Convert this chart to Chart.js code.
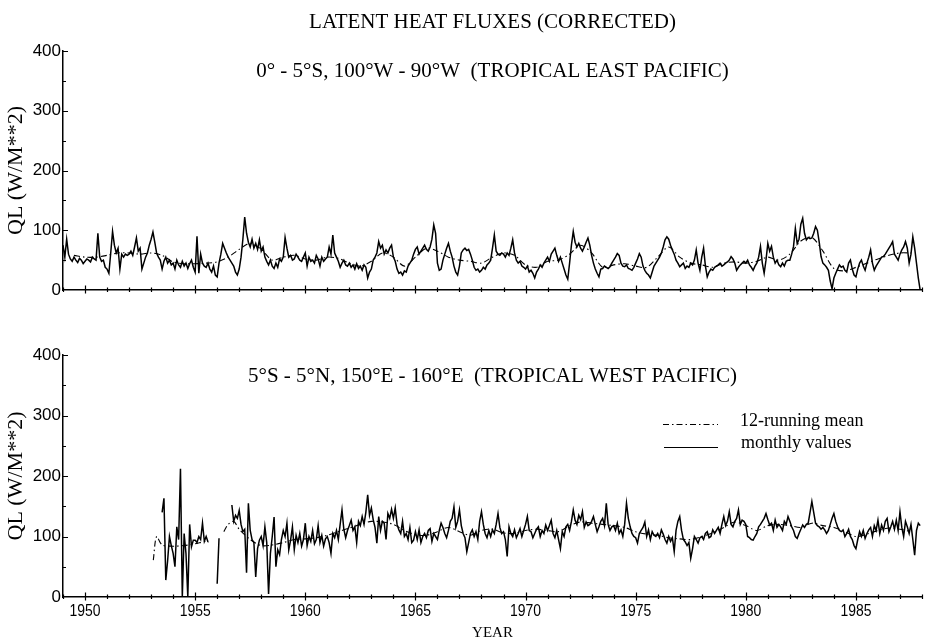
<!DOCTYPE html>
<html>
<head>
<meta charset="utf-8">
<script src="https://cdn.jsdelivr.net/npm/chart.js@4.4.1/dist/chart.umd.min.js"></script>
<style>
html, body { margin: 0; padding: 0; background: #fff; }
#wrap { position: relative; width: 932px; height: 643px; overflow: hidden; background: #fff; }
canvas { position: absolute; left: 0; }
#c1 { top: 0; }
#c2 { top: 320px; }
</style>
</head>
<body>
<div id="wrap">
  <canvas id="c1" width="932" height="320"></canvas>
  <canvas id="c2" width="932" height="323"></canvas>
</div>
<script>
// ---------------- DATA ----------------
const mainTitle = 'LATENT HEAT FLUXES (CORRECTED)';
const eastTitle = '0\u00B0 - 5\u00B0S, 100\u00B0W - 90\u00B0W  (TROPICAL EAST PACIFIC)';
const westTitle = '5\u00B0S - 5\u00B0N, 150\u00B0E - 160\u00B0E  (TROPICAL WEST PACIFIC)';
const yAxisTitle = 'QL (W/M**2)';
const xAxisTitle = 'YEAR';
const legendLabels = ['12-running mean', 'monthly values'];

const xTickYears = [1950, 1955, 1960, 1965, 1970, 1975, 1980, 1985];
const yTickValues = [0, 100, 200, 300, 400];
const yMinorValues = [50, 150, 250, 350];

// East Pacific monthly values, Jan 1949 .. Dec 1987 (one row per year)
const eastStartYear = 1949;
const eastMonthly = [
  75, 55, 85, 60, 52, 48, 55, 50, 46, 53, 50, 44,   // 1949
  48, 52, 50, 47, 55, 52, 50, 95, 55, 48, 50, 38,   // 1950
  35, 28, 62, 98, 75, 62, 70, 35, 60, 55, 60, 58,   // 1951
  60, 65, 58, 72, 87, 65, 70, 35, 45, 55, 62, 75,   // 1952
  85, 97, 80, 62, 55, 50, 35, 48, 55, 45, 50, 42,   // 1953
  45, 35, 50, 42, 38, 48, 40, 45, 36, 44, 50, 38,   // 1954
  30, 90, 28, 60, 45, 40, 38, 45, 35, 30, 40, 25,   // 1955
  22, 45, 60, 78, 70, 62, 55, 50, 45, 40, 30, 25,   // 1956
  35, 55, 85, 122, 95, 80, 72, 85, 70, 78, 68, 84,  // 1957
  65, 72, 55, 48, 42, 50, 40, 36, 45, 38, 52, 48,   // 1958
  55, 88, 70, 55, 58, 50, 52, 60, 55, 50, 48, 55,   // 1959
  62, 40, 55, 48, 50, 45, 58, 52, 40, 55, 48, 52,   // 1960
  55, 72, 60, 92, 62, 55, 48, 38, 45, 50, 42, 40,   // 1961
  45, 38, 42, 35, 44, 36, 40, 33, 42, 38, 20, 30,   // 1962
  35, 50, 55, 62, 81, 70, 75, 60, 67, 62, 70, 75,   // 1963
  55, 48, 35, 28, 30, 25, 32, 30, 40, 45, 50, 60,   // 1964
  68, 72, 60, 65, 70, 75, 68, 65, 72, 85, 109, 95,  // 1965
  45, 33, 35, 50, 60, 70, 78, 65, 55, 40, 30, 25,   // 1966
  40, 62, 67, 70, 66, 68, 60, 50, 38, 33, 35, 30,   // 1967
  33, 38, 35, 42, 45, 50, 70, 92, 65, 60, 58, 62,   // 1968
  60, 55, 62, 58, 70, 84, 62, 50, 45, 48, 40, 38,   // 1969
  35, 40, 30, 33, 28, 20, 30, 35, 42, 38, 45, 50,   // 1970
  55, 48, 60, 65, 70, 58, 48, 55, 45, 35, 25, 18,   // 1971
  45, 75, 98, 80, 72, 78, 70, 65, 72, 80, 87, 75,   // 1972
  58, 45, 35, 28, 22, 35, 36, 40, 38, 36, 39, 45,   // 1973
  50, 55, 61, 58, 45, 40, 39, 42, 36, 35, 33, 38,   // 1974
  45, 52, 61, 55, 40, 33, 28, 25, 20, 30, 40, 45,   // 1975
  50, 55, 62, 72, 84, 89, 85, 75, 67, 60, 50, 45,   // 1976
  39, 42, 45, 36, 40, 38, 45, 42, 50, 67, 45, 33,   // 1977
  55, 70, 40, 22, 30, 35, 33, 38, 40, 42, 45, 40,   // 1978
  42, 45, 47, 50, 56, 52, 45, 33, 38, 42, 45, 48,   // 1979
  45, 50, 42, 38, 33, 40, 45, 55, 73, 45, 28, 50,   // 1980
  78, 65, 73, 55, 45, 50, 42, 39, 45, 40, 48, 50,   // 1981
  50, 60, 73, 103, 78, 85, 110, 120, 95, 84, 88, 86, // 1982
  87, 95, 106, 100, 80, 56, 45, 42, 38, 33, 15, 2,  // 1983
  20, 28, 35, 42, 38, 40, 33, 30, 45, 50, 35, 25,   // 1984
  22, 35, 45, 50, 40, 33, 45, 55, 67, 45, 33, 40,   // 1985
  45, 50, 55, 56, 60, 65, 70, 75, 81, 60, 55, 50,   // 1986
  60, 67, 72, 81, 70, 45, 60, 89, 70, 45, 20, 0     // 1987
];

// East Pacific 12-month running mean, read every half year
const eastMeanYears = [
  1949.5, 1950, 1950.5, 1951, 1951.5, 1952, 1952.5, 1953, 1953.5, 1954, 1954.5, 1955, 1955.5,
  1956, 1956.5, 1957, 1957.5, 1958, 1958.5, 1959, 1959.5, 1960, 1960.5, 1961, 1961.5,
  1962, 1962.5, 1963, 1963.5, 1964, 1964.5, 1965, 1965.5, 1966, 1966.5, 1967, 1967.5,
  1968, 1968.5, 1969, 1969.5, 1970, 1970.5, 1971, 1971.5, 1972, 1972.5, 1973, 1973.5,
  1974, 1974.5, 1975, 1975.5, 1976, 1976.5, 1977, 1977.5, 1978, 1978.5, 1979, 1979.5,
  1980, 1980.5, 1981, 1981.5, 1982, 1982.5, 1983, 1983.5, 1984, 1984.5, 1985, 1985.5,
  1986, 1986.5, 1987, 1987.5
];
const eastMeanValues = [
  58, 55, 55, 58, 62, 62, 60, 62, 58, 47, 44, 44, 45,
  47, 55, 68, 78, 68, 50, 55, 58, 52, 50, 55, 53,
  45, 40, 48, 62, 55, 40, 55, 70, 65, 55, 50, 48,
  45, 55, 62, 58, 42, 38, 48, 50, 60, 75, 62, 38,
  42, 44, 40, 38, 55, 72, 55, 45, 42, 38, 45, 47,
  45, 48, 55, 50, 60, 82, 88, 65, 36, 32, 38, 45,
  52, 58, 62, 62
];

// West Pacific monthly values, Jan 1953 .. Dec 1987 (null = missing)
const westStartYear = 1953;
const westMonthly = [
  null, null, null, null, null, null, 140, 163, 28, 60, 100, 85,      // 1953
  72, 50, 116, 95, 212, 0, 105, 72, 0, 120, 83, 94,                    // 1954
  94, 90, 100, 95, 122, 92, 100, 91, null, null, null, null,          // 1955
  22, 97, null, null, null, null, null, null, 152, 125, 135, 130,     // 1956
  143, 120, 108, 112, 40, 155, 110, 95, 90, 33, 80, 94,               // 1957
  100, 85, 116, 90, 5, 72, 100, 132, 50, 78, 70, 95,                  // 1958
  110, 100, 122, 78, 94, 116, 78, 102, 90, 105, 84, 95,               // 1959
  122, 85, 100, 92, 110, 88, 95, 118, 90, 102, 84, 96,                // 1960
  100, 90, 72, 105, 98, 110, 95, 120, 144, 112, 98, 110,              // 1961
  118, 127, 110, 116, 90, 125, 118, 133, 120, 140, 169, 135,          // 1962
  147, 128, 115, 89, 133, 110, 125, 122, 95, 138, 130, 145,           // 1963
  130, 147, 120, 111, 105, 125, 100, 105, 95, 115, 90, 94,            // 1964
  108, 95, 111, 90, 100, 105, 98, 110, 113, 92, 105, 100,             // 1965
  95, 110, 122, 115, 105, 98, 110, 125, 130, 149, 115, 125,           // 1966
  144, 118, 105, 98, 75, 90, 105, 111, 100, 108, 95, 125,             // 1967
  141, 120, 105, 98, 110, 100, 111, 105, 120, 138, 115, 105,          // 1968
  108, 95, 67, 116, 105, 100, 111, 98, 105, 113, 100, 110,            // 1969
  120, 133, 110, 108, 98, 105, 112, 116, 100, 110, 105, 119,          // 1970
  110, 118, 127, 105, 98, 110, 95, 80, 108, 100, 116, 120,            // 1971
  110, 125, 144, 127, 120, 135, 128, 141, 115, 124, 118, 120,         // 1972
  125, 133, 120, 108, 116, 125, 130, 118, 155, 120, 110, 116,         // 1973
  118, 110, 122, 105, 111, 100, 120, 155, 130, 116, 105, 100,         // 1974
  98, 89, 105, 110, 115, 124, 100, 111, 95, 108, 102, 100,            // 1975
  105, 98, 111, 104, 95, 89, 100, 92, 98, 75, 110, 125,               // 1976
  133, 110, 95, 91, 85, 90, 64, 80, 100, 95, 89, 98,                  // 1977
  100, 95, 105, 108, 98, 100, 111, 105, 110, 115, 105, 120,           // 1978
  133, 118, 125, 141, 120, 116, 125, 130, 144, 120, 127, 125,         // 1979
  120, 100, 98, 95, 94, 100, 105, 116, 120, 125, 130, 138,            // 1980
  128, 119, 122, 110, 127, 115, 120, 116, 110, 125, 120, 133,         // 1981
  125, 116, 110, 100, 97, 105, 112, 119, 115, 120, 122, 140,          // 1982
  158, 140, 122, 118, 116, 112, 115, 111, 105, 110, 120, 130,         // 1983
  138, 125, 116, 110, 108, 111, 100, 105, 112, 100, 95, 85,           // 1984
  80, 95, 108, 100, 110, 97, 105, 111, 115, 100, 118, 110,            // 1985
  127, 105, 119, 110, 125, 130, 108, 116, 125, 112, 127, 110,         // 1986
  141, 115, 100, 125, 116, 105, 120, 95, 69, 110, 122, 118            // 1987
];

// West Pacific 12-month running mean (null = break in the curve)
const westMeanYears = [
  1953.1, 1953.25, 1953.5, 1954, 1954.5, 1955, 1955.5, 1955.6, 1956,
  1956.3, 1956.5, 1956.75, 1957, 1957.5, 1958, 1958.5, 1959, 1959.5, 1960, 1960.5,
  1961, 1961.5, 1962, 1962.5, 1963, 1963.5, 1964, 1964.5, 1965, 1965.5, 1966, 1966.5,
  1967, 1967.5, 1968, 1968.5, 1969, 1969.5, 1970, 1970.5, 1971, 1971.5, 1972, 1972.5,
  1973, 1973.5, 1974, 1974.5, 1975, 1975.5, 1976, 1976.5, 1977, 1977.5, 1978, 1978.5,
  1979, 1979.5, 1980, 1980.5, 1981, 1981.5, 1982, 1982.5, 1983, 1983.5, 1984, 1984.5,
  1985, 1985.5, 1986, 1986.5, 1987, 1987.5
];
const westMeanValues = [
  61, 100, 86, 84, 85, 88, 92, 90, null,
  108, 120, 125, 112, 95, 85, 86, 90, 95, 96, 98,
  102, 108, 114, 120, 125, 124, 120, 110, 103, 102, 108, 115,
  108, 102, 110, 112, 106, 105, 110, 112, 110, 108, 118, 124,
  122, 120, 118, 115, 108, 104, 102, 98, 96, 95, 100, 106,
  115, 124, 118, 110, 118, 120, 118, 115, 122, 118, 115, 108,
  100, 104, 110, 114, 112, 108
];

// ---------------- helpers ----------------
const SERIF = "'Liberation Serif', 'Times New Roman', serif";
const SANS = "'Liberation Sans', Arial, sans-serif";

function monthlyPoints(startYear, values) {
  return values.map((v, i) => ({ x: startYear + i / 12, y: v }));
}
function pairPoints(xs, ys) {
  return xs.map((x, i) => ({ x: x, y: ys[i] }));
}

// inward y ticks and crossing x ticks, drawn on the library's scales
const axisTicks = {
  id: 'axisTicks',
  afterDraw(chart, args, opts) {
    const { ctx, chartArea: ca, scales } = chart;
    const x = scales.x, y = scales.y;
    ctx.save();
    ctx.strokeStyle = '#000';
    ctx.lineWidth = 1.2;
    ctx.beginPath();
    yTickValues.concat(yMinorValues).forEach(v => {
      if (v === 0) return;
      const py = Math.round(y.getPixelForValue(v)) + 0.5;
      const len = (v % 100 === 0) ? 5 : 3;
      ctx.moveTo(ca.left, py);
      ctx.lineTo(ca.left + len, py);
    });
    for (let yr = Math.ceil(x.min); yr <= x.max; yr++) {
      const px = Math.round(x.getPixelForValue(yr)) + 0.5;
      const major = xTickYears.indexOf(yr) >= 0;
      const up = major ? 4.5 : 2.5, dn = major ? 3.5 : 2;
      ctx.moveTo(px, ca.bottom - up);
      ctx.lineTo(px, ca.bottom + dn);
    }
    ctx.stroke();
    // condensed year labels, positioned by the x scale
    if (opts.labels) {
      ctx.fillStyle = '#000';
      ctx.font = '17px ' + SANS;
      ctx.textAlign = 'center';
      ctx.textBaseline = 'alphabetic';
      xTickYears.forEach(yr => {
        const px = x.getPixelForValue(yr);
        ctx.save();
        ctx.translate(px, ca.bottom + 19);
        ctx.scale(0.82, 1);
        ctx.fillText(String(yr), 0, 0);
        ctx.restore();
      });
    }
    ctx.restore();
  }
};

// titles and legend drawn as text on the canvas
const panelText = {
  id: 'panelText',
  afterDraw(chart, args, opts) {
    const ctx = chart.ctx;
    const cx = (chart.chartArea.left + chart.chartArea.right) / 2;
    ctx.save();
    ctx.fillStyle = '#000';
    ctx.strokeStyle = '#000';
    ctx.textBaseline = 'alphabetic';
    (opts.texts || []).forEach(t => {
      ctx.font = t.font;
      ctx.textAlign = t.align || 'center';
      ctx.fillText(t.text, t.x == null ? cx : t.x, t.y);
    });
    (opts.lines || []).forEach(l => {
      ctx.beginPath();
      ctx.setLineDash(l.dash || []);
      ctx.lineWidth = l.width;
      ctx.moveTo(l.x1, l.y);
      ctx.lineTo(l.x2, l.y);
      ctx.stroke();
    });
    ctx.restore();
  }
};

function makeChart(canvasId, monthly, mean, cfg) {
  return new Chart(document.getElementById(canvasId), {
    type: 'line',
    data: {
      datasets: [
        { data: monthly, borderColor: '#000', borderWidth: 1.5, pointRadius: 0, tension: 0, spanGaps: false },
        { data: mean, borderColor: '#000', borderWidth: 1.1, borderDash: [6, 3, 1.5, 3], pointRadius: 0, tension: 0.3, spanGaps: false }
      ]
    },
    options: {
      responsive: false,
      animation: false,
      events: [],
      layout: { padding: { top: cfg.padTop, right: 10, left: 0, bottom: 0 } },
      plugins: {
        legend: { display: false },
        tooltip: { enabled: false },
        panelText: cfg.text,
        axisTicks: { labels: cfg.showX }
      },
      scales: {
        x: {
          type: 'linear', min: 1949, max: 1988,
          afterBuildTicks: s => { s.ticks = xTickYears.map(v => ({ value: v })); },
          afterFit: s => { s.height = cfg.xHeight; },
          grid: { display: false, drawTicks: false },
          border: { display: true, color: '#000', width: 1.5 },
          ticks: { display: false, callback: v => String(v) },
          title: {
            display: cfg.showX, text: xAxisTitle, color: '#000',
            font: { family: SERIF, size: 15 }, padding: { top: 0, bottom: 1 }
          }
        },
        y: {
          min: 0, max: 400,
          afterBuildTicks: s => { s.ticks = yTickValues.map(v => ({ value: v })); },
          afterFit: s => { s.width = 63; },
          grid: { display: false, drawTicks: false },
          border: { display: true, color: '#000', width: 1.5 },
          ticks: { color: '#000', padding: 2, font: { family: SANS, size: 17 } },
          title: {
            display: true, text: yAxisTitle, color: '#000',
            font: { family: SERIF, size: 22 }, padding: { top: 3, bottom: 0 }
          }
        }
      }
    },
    plugins: [axisTicks, panelText]
  });
}

makeChart('c1',
  monthlyPoints(eastStartYear, eastMonthly),
  pairPoints(eastMeanYears, eastMeanValues),
  {
    padTop: 51, xHeight: 30, showX: false,
    text: {
      texts: [
        { text: mainTitle, font: '21px ' + SERIF, y: 28 },
        { text: eastTitle, font: '21px ' + SERIF, y: 77 }
      ]
    }
  });

makeChart('c2',
  monthlyPoints(westStartYear, westMonthly),
  pairPoints(westMeanYears, westMeanValues),
  {
    padTop: 35, xHeight: 46, showX: true,
    text: {
      texts: [
        { text: westTitle, font: '21px ' + SERIF, y: 62 },
        { text: legendLabels[0], font: '18px ' + SERIF, x: 740, y: 106, align: 'left' },
        { text: legendLabels[1], font: '18px ' + SERIF, x: 741, y: 128, align: 'left' }
      ],
      lines: [
        { x1: 663, x2: 718, y: 104.5, width: 1.1, dash: [6, 3, 1.5, 3] },
        { x1: 664, x2: 718, y: 127.5, width: 1.1 }
      ]
    }
  });
</script>
</body>
</html>
